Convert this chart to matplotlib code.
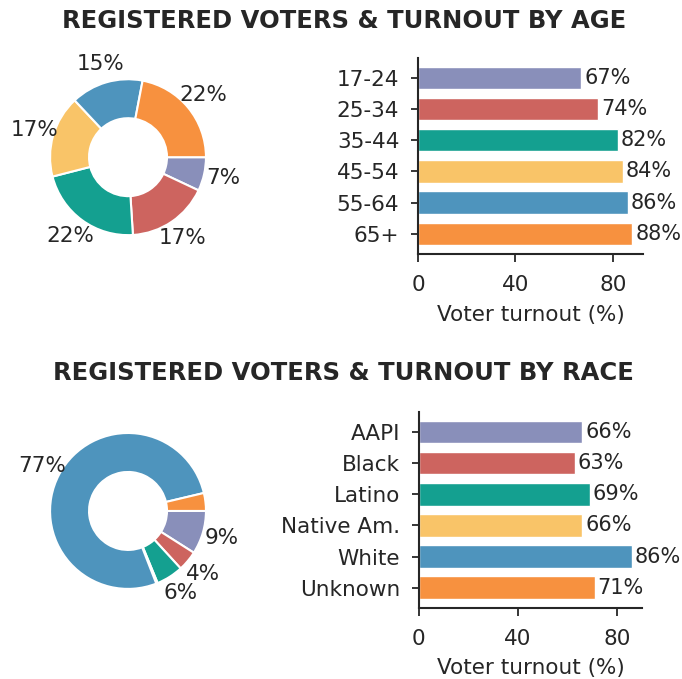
import matplotlib
matplotlib.use("Agg")
import matplotlib.pyplot as plt
import seaborn as sns

sns.set_style("ticks")
plt.rcParams['font.family'] = ['DejaVu Sans']
plt.rcParams['font.size'] = 15.5

# age groups: share of registered voters (%) and turnout (%)
age_groups = ['17-24', '25-34', '35-44', '45-54', '55-64', '65+']
age_share = [7, 17, 22, 17, 15, 22]
age_turnout = [67, 74, 82, 84, 86, 88]

# race groups
race_groups = ['AAPI', 'Black', 'Latino', 'Native Am.', 'White', 'Unknown']
race_share = [9.0, 4.2, 5.6, 0.3, 77.2, 3.7]
race_turnout = [66, 63, 69, 66, 86, 71]

colors = ['#898FBA', '#CD645F', '#14A090', '#F9C468', '#4E94BD', '#F7913F']
text_color = '#262626'
fs = 15.5


def pct_label(p):
    # small slices get no label
    return f'{p:.0f}%' if p >= 4 else ''


def donut(ax, shares):
    ax.pie(shares, colors=colors, startangle=0, counterclock=False,
           autopct=pct_label, pctdistance=1.25,
           wedgeprops=dict(width=0.5, edgecolor='white', linewidth=1.5),
           textprops=dict(fontsize=fs, color=text_color))


def turnout_bars(ax, groups, turnout):
    bars = ax.barh(groups, turnout, height=0.72, color=colors,
                   edgecolor='white', linewidth=1)
    ax.invert_yaxis()
    ax.bar_label(bars, labels=[f'{v}%' for v in turnout], padding=2,
                 fontsize=15, color=text_color)
    ax.set_xticks([0, 40, 80])
    ax.set_xlabel('Voter turnout (%)', fontsize=fs, color=text_color, labelpad=7)
    ax.tick_params(labelsize=fs, colors=text_color, width=1.3)
    ax.tick_params(axis='x', length=6, pad=9)
    ax.tick_params(axis='y', length=5, pad=8.5)
    for side in ['left', 'bottom']:
        ax.spines[side].set_linewidth(1.5)
        ax.spines[side].set_color(text_color)
    sns.despine(ax=ax)


fig = plt.figure(figsize=(6.82, 6.79), dpi=100)

ax1 = fig.add_axes([0.0447, 0.625, 0.286, 0.287])
donut(ax1, age_share)
ax2 = fig.add_axes([0.613, 0.626, 0.330, 0.289])
turnout_bars(ax2, age_groups, age_turnout)

ax3 = fig.add_axes([0.0447, 0.104, 0.286, 0.287])
donut(ax3, race_share)
ax4 = fig.add_axes([0.614, 0.105, 0.328, 0.288])
turnout_bars(ax4, race_groups, race_turnout)

fig.text(0.505, 0.969, 'REGISTERED VOTERS & TURNOUT BY AGE', ha='center',
         va='center', fontsize=17.5, fontweight='bold', color=text_color)
fig.text(0.504, 0.450, 'REGISTERED VOTERS & TURNOUT BY RACE', ha='center',
         va='center', fontsize=17.5, fontweight='bold', color=text_color)

fig.savefig('out.png', dpi=100)
